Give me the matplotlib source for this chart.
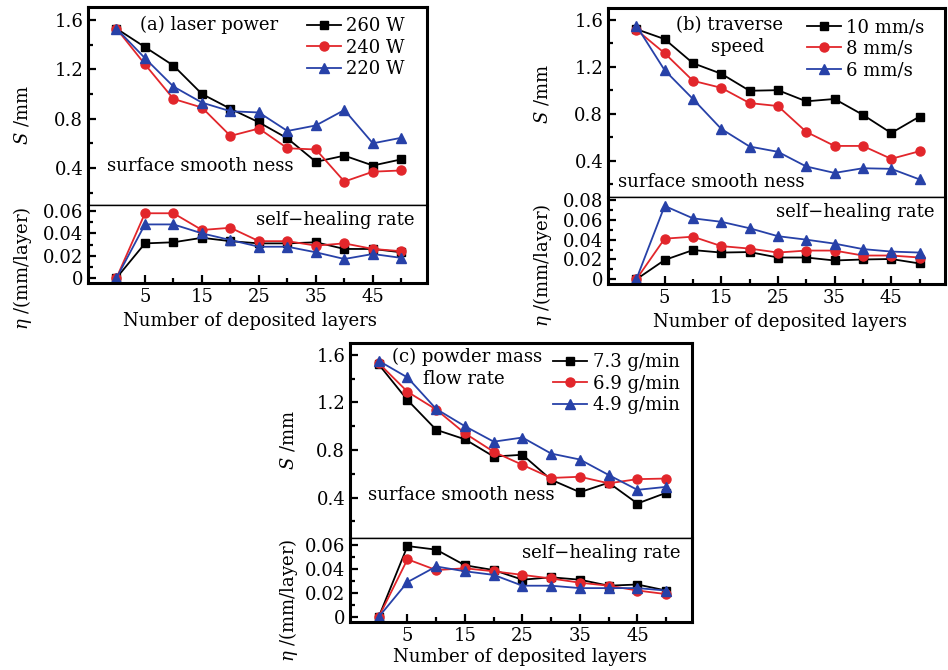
import matplotlib
matplotlib.use("Agg")
import matplotlib.pyplot as plt
from matplotlib.ticker import FixedLocator, FuncFormatter

plt.rcParams['font.family'] = ['DejaVu Serif']
plt.rcParams['mathtext.fontset'] = 'dejavuserif'

layers = [0, 5, 10, 15, 20, 25, 30, 35, 40, 45, 50]

# (a) laser power
a_labels = ["260 W", "240 W", "220 W"]
a_s = [
    [1.53, 1.38, 1.23, 1.00, 0.88, 0.77, 0.64, 0.45, 0.50, 0.42, 0.47],
    [1.53, 1.24, 0.96, 0.89, 0.66, 0.72, 0.56, 0.55, 0.29, 0.37, 0.38],
    [1.53, 1.29, 1.06, 0.93, 0.86, 0.85, 0.70, 0.745, 0.87, 0.60, 0.645],
]
a_eta = [
    [0, 0.031, 0.032, 0.036, 0.033, 0.031, 0.031, 0.032, 0.026, 0.026, 0.023],
    [0, 0.058, 0.058, 0.043, 0.045, 0.033, 0.033, 0.029, 0.031, 0.026, 0.024],
    [0, 0.048, 0.048, 0.040, 0.034, 0.028, 0.028, 0.023, 0.017, 0.0215, 0.018],
]

# (b) traverse speed
b_labels = ["10 mm/s", "8 mm/s", "6 mm/s"]
b_s = [
    [1.52, 1.435, 1.23, 1.14, 0.995, 1.00, 0.905, 0.925, 0.79, 0.635, 0.775],
    [1.515, 1.315, 1.08, 1.02, 0.89, 0.865, 0.645, 0.525, 0.525, 0.415, 0.48],
    [1.55, 1.17, 0.925, 0.67, 0.52, 0.475, 0.35, 0.295, 0.335, 0.33, 0.24],
]
b_eta = [
    [0, 0.0195, 0.0295, 0.027, 0.0275, 0.022, 0.022, 0.019, 0.020, 0.0205, 0.016],
    [0, 0.041, 0.043, 0.0335, 0.031, 0.027, 0.029, 0.029, 0.024, 0.024, 0.022],
    [0, 0.074, 0.0615, 0.058, 0.0515, 0.0435, 0.040, 0.036, 0.0305, 0.028, 0.027],
]

# (c) powder mass flow rate
c_labels = ["7.3 g/min", "6.9 g/min", "4.9 g/min"]
c_s = [
    [1.52, 1.22, 0.97, 0.89, 0.745, 0.76, 0.55, 0.445, 0.525, 0.35, 0.44],
    [1.53, 1.29, 1.14, 0.94, 0.785, 0.675, 0.565, 0.575, 0.52, 0.555, 0.56],
    [1.55, 1.41, 1.145, 1.00, 0.87, 0.905, 0.77, 0.72, 0.59, 0.465, 0.49],
]
c_eta = [
    [0, 0.059, 0.056, 0.043, 0.039, 0.031, 0.033, 0.031, 0.026, 0.027, 0.022],
    [0, 0.048, 0.039, 0.0405, 0.038, 0.035, 0.032, 0.0285, 0.026, 0.022, 0.019],
    [0, 0.029, 0.042, 0.038, 0.035, 0.026, 0.026, 0.024, 0.024, 0.024, 0.022],
]

colors = ["black", "#e2262b", "#2741a8"]
markers = ["s", "o", "^"]
msizes = [5.5, 6.5, 6.5]

W, H = 948, 670
FS = 13


def box(l, r, t, b):
    return [l / W, 1 - b / H, (r - l) / W, (b - t) / H]


def style(ax, bottom):
    for side in ["left", "right", "top", "bottom"]:
        ax.spines[side].set_linewidth(2.2)
    ax.tick_params(which="both", direction="in", labelsize=FS, right=False, top=False)
    ax.tick_params(which="major", length=6, width=1.6)
    ax.tick_params(which="minor", length=3.5, width=1.6)
    ax.set_xlim(-5, 54.5)
    if bottom:
        ax.spines["top"].set_linewidth(1.0)
        ax.xaxis.set_major_locator(FixedLocator([5, 15, 25, 35, 45]))
        ax.xaxis.set_minor_locator(FixedLocator([0, 10, 20, 30, 40, 50]))
    else:
        ax.spines["bottom"].set_linewidth(1.0)
        ax.tick_params(axis="x", which="both", bottom=False, labelbottom=False)


def panel(top_box, bot_box, s_data, eta_data, labels, s_ylim, eta_ylim, eta_ticks, leg_x):
    ax1 = fig.add_axes(top_box)
    ax2 = fig.add_axes(bot_box)
    for k in range(3):
        ax1.plot(layers, s_data[k], color=colors[k], marker=markers[k], ms=msizes[k],
                 lw=1.3, label=labels[k])
        ax2.plot(layers, eta_data[k], color=colors[k], marker=markers[k], ms=msizes[k],
                 lw=1.3)
    style(ax1, False)
    style(ax2, True)
    ax1.set_ylim(*s_ylim)
    ax1.yaxis.set_major_locator(FixedLocator([0.4, 0.8, 1.2, 1.6]))
    ax1.yaxis.set_minor_locator(FixedLocator([0.2, 0.6, 1.0, 1.4]))
    ax1.yaxis.set_major_formatter(FuncFormatter(lambda v, p: f"{v:.1f}"))
    ax2.set_ylim(*eta_ylim)
    ax2.yaxis.set_major_locator(FixedLocator(eta_ticks))
    ax2.yaxis.set_minor_locator(FixedLocator([t + 0.01 for t in eta_ticks]))
    ax2.yaxis.set_major_formatter(FuncFormatter(lambda v, p: "0" if abs(v) < 1e-9 else f"{v:.2f}"))
    ax1.legend(loc="upper right", frameon=False, fontsize=FS, handlelength=1.9,
               handletextpad=0.3, labelspacing=0.2, borderaxespad=0.0,
               bbox_to_anchor=(leg_x, 0.985))
    return ax1, ax2


def ftext(x, y, s, **kw):
    fig.text(x / W, 1 - y / H, s, fontsize=FS, va="center", **kw)


fig = plt.figure(figsize=(9.48, 6.70), dpi=100)

panel(box(88, 427, 7, 205), box(88, 427, 205, 283), a_s, a_eta, a_labels,
      (0.1, 1.705), (-0.0045, 0.0654), [0, 0.02, 0.04, 0.06], 0.956)
panel(box(608, 945, 8, 197), box(608, 945, 197, 284), b_s, b_eta, b_labels,
      (0.09, 1.70), (-0.0047, 0.083), [0, 0.02, 0.04, 0.06, 0.08], 0.961)
panel(box(350, 692, 343, 538), box(350, 692, 538, 622), c_s, c_eta, c_labels,
      (0.06, 1.70), (-0.0042, 0.0657), [0, 0.02, 0.04, 0.06], 0.985)

# panel annotations
ftext(140, 25, "(a) laser power", ha="left")
ftext(107, 166, "surface smooth ness", ha="left")
ftext(415, 220, "self\u2212healing rate", ha="right")

ftext(729, 25, "(b) traverse", ha="center")
ftext(738, 47, "speed", ha="center")
ftext(618, 182, "surface smooth ness", ha="left")
ftext(935, 212, "self\u2212healing rate", ha="right")

ftext(392, 357, "(c) powder mass", ha="left")
ftext(423, 379, "flow rate", ha="left")
ftext(368, 495, "surface smooth ness", ha="left")
ftext(680, 553, "self\u2212healing rate", ha="right")

# axis labels
ftext(22, 115, r"$S$ /mm", ha="center", rotation=90)
ftext(22, 268, r"$\eta$ /(mm/layer)", ha="center", rotation=90)
ftext(250, 321, "Number of deposited layers", ha="center")

ftext(542, 94, r"$S$ /mm", ha="center", rotation=90)
ftext(542, 265, r"$\eta$ /(mm/layer)", ha="center", rotation=90)
ftext(780, 322, "Number of deposited layers", ha="center")

ftext(288, 440, r"$S$ /mm", ha="center", rotation=90)
ftext(288, 600, r"$\eta$ /(mm/layer)", ha="center", rotation=90)
ftext(520, 657, "Number of deposited layers", ha="center")

fig.savefig("out.png", dpi=100)
